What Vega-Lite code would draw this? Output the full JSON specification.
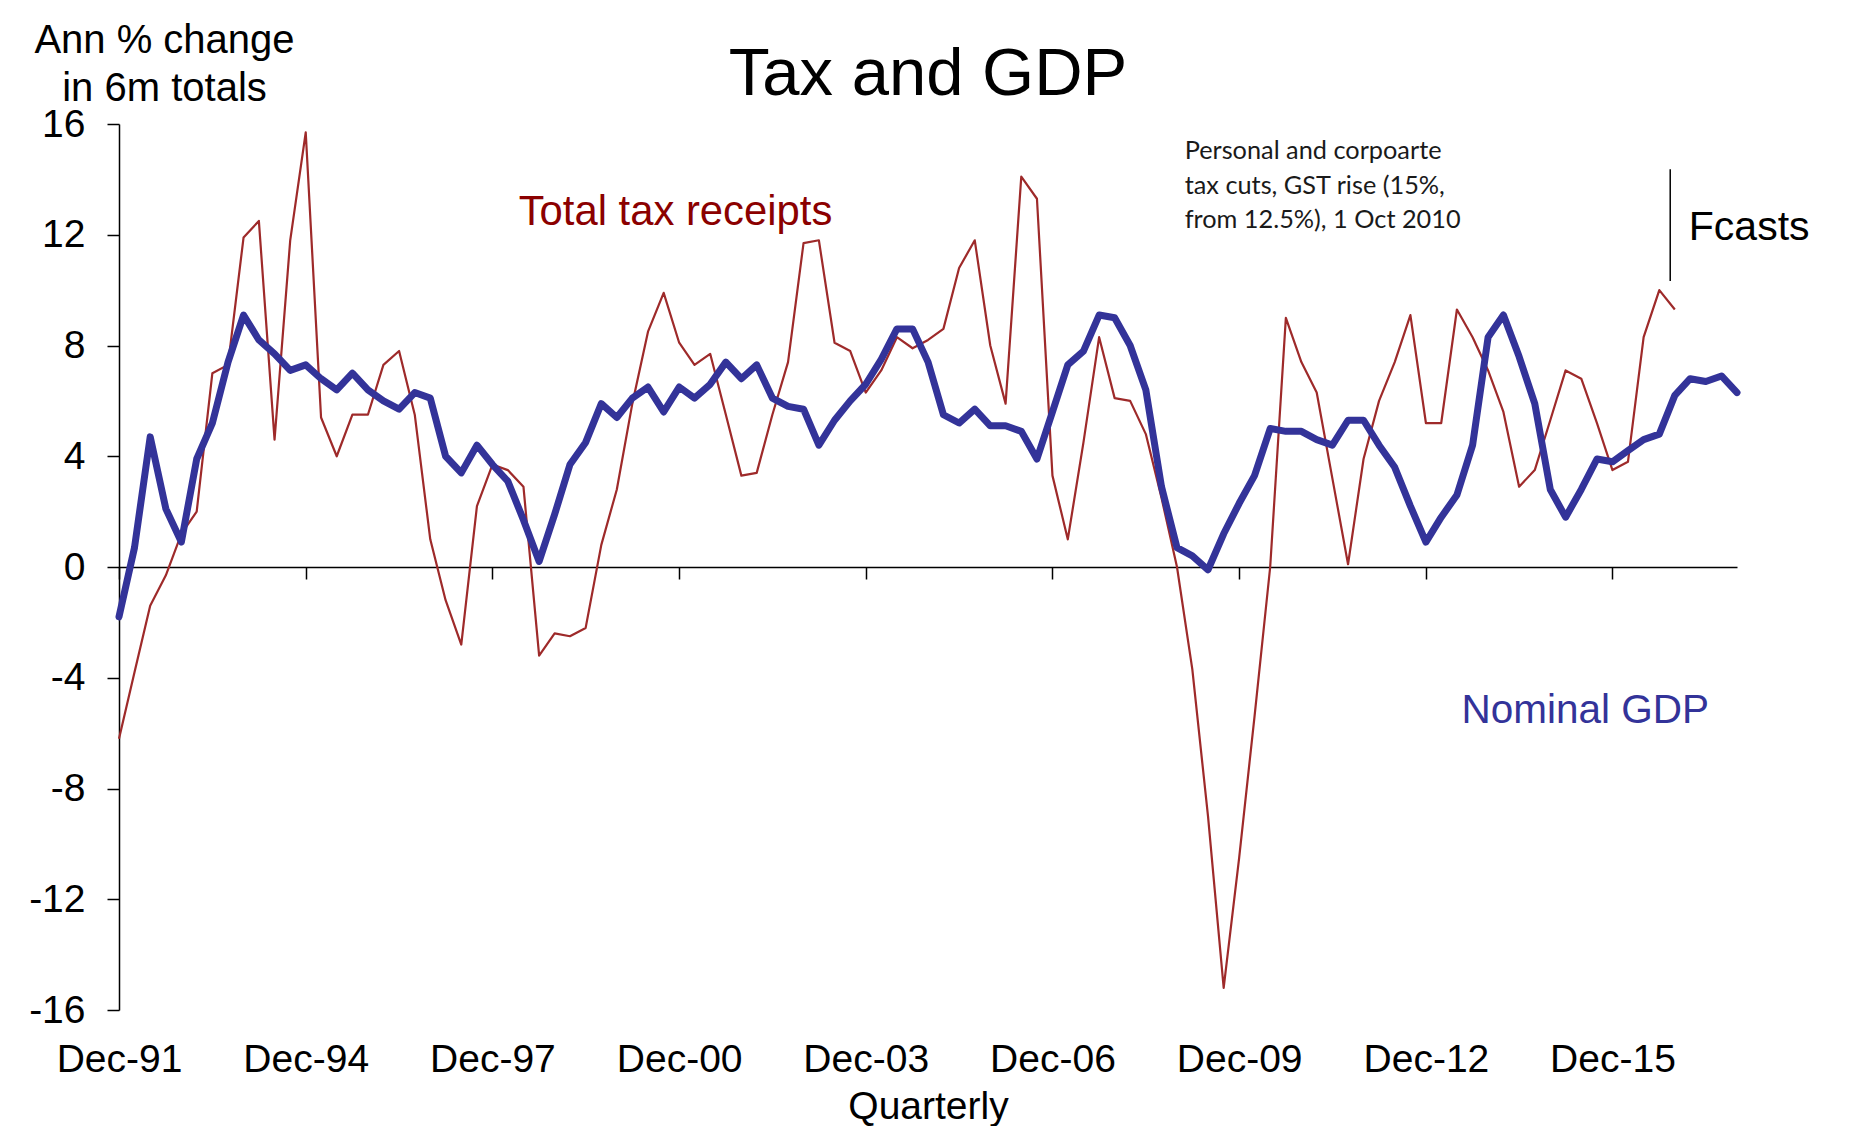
{
  "$schema": "https://vega.github.io/schema/vega-lite/v6.json",
  "width": 1618,
  "height": 886,
  "autosize": {"type": "none"},
  "padding": {"left": 119, "top": 124, "right": 114, "bottom": 116},
  "background": "white",
  "title": {
    "text": "Tax and GDP",
    "font": "Liberation Sans",
    "fontSize": 67,
    "fontWeight": "normal",
    "color": "black",
    "anchor": "middle",
    "frame": "group",
    "offset": 0,
    "dy": 89
  },
  "config": {
    "view": {"stroke": null},
    "axis": {
      "domainColor": "black",
      "domainWidth": 1.5,
      "tickColor": "black",
      "tickWidth": 1.5,
      "tickSize": 12,
      "grid": false,
      "labelColor": "black",
      "labelFont": "Liberation Sans",
      "labelFontSize": 39,
      "titleFont": "Liberation Sans",
      "titleFontSize": 39,
      "titleFontWeight": "normal",
      "titleColor": "black"
    }
  },
  "data": {
    "values": [
      {"date": "1991-12-01", "tax": -6.2, "gdp": -1.8},
      {"date": "1992-03-01", "tax": -3.8, "gdp": 0.7},
      {"date": "1992-06-01", "tax": -1.4, "gdp": 4.7},
      {"date": "1992-09-01", "tax": -0.3, "gdp": 2.1},
      {"date": "1992-12-01", "tax": 1.2, "gdp": 0.9},
      {"date": "1993-03-01", "tax": 2.0, "gdp": 3.9},
      {"date": "1993-06-01", "tax": 7.0, "gdp": 5.2},
      {"date": "1993-09-01", "tax": 7.3, "gdp": 7.4},
      {"date": "1993-12-01", "tax": 11.9, "gdp": 9.1},
      {"date": "1994-03-01", "tax": 12.5, "gdp": 8.2},
      {"date": "1994-06-01", "tax": 4.6, "gdp": 7.7},
      {"date": "1994-09-01", "tax": 11.8, "gdp": 7.1},
      {"date": "1994-12-01", "tax": 15.7, "gdp": 7.3},
      {"date": "1995-03-01", "tax": 5.4, "gdp": 6.8},
      {"date": "1995-06-01", "tax": 4.0, "gdp": 6.4},
      {"date": "1995-09-01", "tax": 5.5, "gdp": 7.0},
      {"date": "1995-12-01", "tax": 5.5, "gdp": 6.4},
      {"date": "1996-03-01", "tax": 7.3, "gdp": 6.0},
      {"date": "1996-06-01", "tax": 7.8, "gdp": 5.7},
      {"date": "1996-09-01", "tax": 5.5, "gdp": 6.3},
      {"date": "1996-12-01", "tax": 1.0, "gdp": 6.1},
      {"date": "1997-03-01", "tax": -1.2, "gdp": 4.0},
      {"date": "1997-06-01", "tax": -2.8, "gdp": 3.4},
      {"date": "1997-09-01", "tax": 2.2, "gdp": 4.4},
      {"date": "1997-12-01", "tax": 3.7, "gdp": 3.7},
      {"date": "1998-03-01", "tax": 3.5, "gdp": 3.1},
      {"date": "1998-06-01", "tax": 2.9, "gdp": 1.7},
      {"date": "1998-09-01", "tax": -3.2, "gdp": 0.2},
      {"date": "1998-12-01", "tax": -2.4, "gdp": 1.9},
      {"date": "1999-03-01", "tax": -2.5, "gdp": 3.7},
      {"date": "1999-06-01", "tax": -2.2, "gdp": 4.5},
      {"date": "1999-09-01", "tax": 0.8, "gdp": 5.9},
      {"date": "1999-12-01", "tax": 2.8, "gdp": 5.4},
      {"date": "2000-03-01", "tax": 5.9, "gdp": 6.1},
      {"date": "2000-06-01", "tax": 8.5, "gdp": 6.5},
      {"date": "2000-09-01", "tax": 9.9, "gdp": 5.6},
      {"date": "2000-12-01", "tax": 8.1, "gdp": 6.5},
      {"date": "2001-03-01", "tax": 7.3, "gdp": 6.1},
      {"date": "2001-06-01", "tax": 7.7, "gdp": 6.6},
      {"date": "2001-09-01", "tax": 5.5, "gdp": 7.4},
      {"date": "2001-12-01", "tax": 3.3, "gdp": 6.8},
      {"date": "2002-03-01", "tax": 3.4, "gdp": 7.3},
      {"date": "2002-06-01", "tax": 5.5, "gdp": 6.1},
      {"date": "2002-09-01", "tax": 7.4, "gdp": 5.8},
      {"date": "2002-12-01", "tax": 11.7, "gdp": 5.7},
      {"date": "2003-03-01", "tax": 11.8, "gdp": 4.4},
      {"date": "2003-06-01", "tax": 8.1, "gdp": 5.3},
      {"date": "2003-09-01", "tax": 7.8, "gdp": 6.0},
      {"date": "2003-12-01", "tax": 6.3, "gdp": 6.6},
      {"date": "2004-03-01", "tax": 7.1, "gdp": 7.5},
      {"date": "2004-06-01", "tax": 8.3, "gdp": 8.6},
      {"date": "2004-09-01", "tax": 7.9, "gdp": 8.6},
      {"date": "2004-12-01", "tax": 8.2, "gdp": 7.4},
      {"date": "2005-03-01", "tax": 8.6, "gdp": 5.5},
      {"date": "2005-06-01", "tax": 10.8, "gdp": 5.2},
      {"date": "2005-09-01", "tax": 11.8, "gdp": 5.7},
      {"date": "2005-12-01", "tax": 8.0, "gdp": 5.1},
      {"date": "2006-03-01", "tax": 5.9, "gdp": 5.1},
      {"date": "2006-06-01", "tax": 14.1, "gdp": 4.9},
      {"date": "2006-09-01", "tax": 13.3, "gdp": 3.9},
      {"date": "2006-12-01", "tax": 3.3, "gdp": 5.6},
      {"date": "2007-03-01", "tax": 1.0, "gdp": 7.3},
      {"date": "2007-06-01", "tax": 4.5, "gdp": 7.8},
      {"date": "2007-09-01", "tax": 8.3, "gdp": 9.1},
      {"date": "2007-12-01", "tax": 6.1, "gdp": 9.0},
      {"date": "2008-03-01", "tax": 6.0, "gdp": 8.0},
      {"date": "2008-06-01", "tax": 4.8, "gdp": 6.4},
      {"date": "2008-09-01", "tax": 2.5, "gdp": 2.9},
      {"date": "2008-12-01", "tax": 0.0, "gdp": 0.7},
      {"date": "2009-03-01", "tax": -3.7, "gdp": 0.4},
      {"date": "2009-06-01", "tax": -9.0, "gdp": -0.1},
      {"date": "2009-09-01", "tax": -15.2, "gdp": 1.2},
      {"date": "2009-12-01", "tax": -10.5, "gdp": 2.3},
      {"date": "2010-03-01", "tax": -5.4, "gdp": 3.3},
      {"date": "2010-06-01", "tax": 0.0, "gdp": 5.0},
      {"date": "2010-09-01", "tax": 9.0, "gdp": 4.9},
      {"date": "2010-12-01", "tax": 7.4, "gdp": 4.9},
      {"date": "2011-03-01", "tax": 6.3, "gdp": 4.6},
      {"date": "2011-06-01", "tax": 3.2, "gdp": 4.4},
      {"date": "2011-09-01", "tax": 0.1, "gdp": 5.3},
      {"date": "2011-12-01", "tax": 3.9, "gdp": 5.3},
      {"date": "2012-03-01", "tax": 6.0, "gdp": 4.4},
      {"date": "2012-06-01", "tax": 7.4, "gdp": 3.6},
      {"date": "2012-09-01", "tax": 9.1, "gdp": 2.2},
      {"date": "2012-12-01", "tax": 5.2, "gdp": 0.9},
      {"date": "2013-03-01", "tax": 5.2, "gdp": 1.8},
      {"date": "2013-06-01", "tax": 9.3, "gdp": 2.6},
      {"date": "2013-09-01", "tax": 8.3, "gdp": 4.4},
      {"date": "2013-12-01", "tax": 7.1, "gdp": 8.3},
      {"date": "2014-03-01", "tax": 5.6, "gdp": 9.1},
      {"date": "2014-06-01", "tax": 2.9, "gdp": 7.6},
      {"date": "2014-09-01", "tax": 3.5, "gdp": 5.9},
      {"date": "2014-12-01", "tax": 5.3, "gdp": 2.8},
      {"date": "2015-03-01", "tax": 7.1, "gdp": 1.8},
      {"date": "2015-06-01", "tax": 6.8, "gdp": 2.8},
      {"date": "2015-09-01", "tax": 5.2, "gdp": 3.9},
      {"date": "2015-12-01", "tax": 3.5, "gdp": 3.8},
      {"date": "2016-03-01", "tax": 3.8, "gdp": 4.2},
      {"date": "2016-06-01", "tax": 8.3, "gdp": 4.6},
      {"date": "2016-09-01", "tax": 10.0, "gdp": 4.8},
      {"date": "2016-12-01", "tax": 9.3, "gdp": 6.2},
      {"date": "2017-03-01", "tax": null, "gdp": 6.8},
      {"date": "2017-06-01", "tax": null, "gdp": 6.7},
      {"date": "2017-09-01", "tax": null, "gdp": 6.9},
      {"date": "2017-12-01", "tax": null, "gdp": 6.3}
    ]
  },
  "layer": [
    {
      "mark": {"type": "line", "color": "#9e2a2a", "strokeWidth": 2.2, "strokeJoin": "round"},
      "encoding": {
        "x": {
          "field": "date",
          "type": "temporal",
          "scale": {
            "type": "utc",
            "domain": [
              {"year": 1991, "month": 12, "date": 1, "utc": true},
              {"year": 2017, "month": 12, "date": 1, "utc": true}
            ]
          },
          "axis": {
            "orient": "bottom",
            "offset": -443,
            "values": [
              {"year": 1991, "month": 12, "date": 1, "utc": true},
              {"year": 1994, "month": 12, "date": 1, "utc": true},
              {"year": 1997, "month": 12, "date": 1, "utc": true},
              {"year": 2000, "month": 12, "date": 1, "utc": true},
              {"year": 2003, "month": 12, "date": 1, "utc": true},
              {"year": 2006, "month": 12, "date": 1, "utc": true},
              {"year": 2009, "month": 12, "date": 1, "utc": true},
              {"year": 2012, "month": 12, "date": 1, "utc": true},
              {"year": 2015, "month": 12, "date": 1, "utc": true}
            ],
            "format": "%b-%y",
            "labelPadding": 461,
            "labelFlush": false,
            "labelOverlap": false,
            "title": "Quarterly",
            "titleBaseline": "alphabetic",
            "titleY": 551
          }
        },
        "y": {
          "field": "tax",
          "type": "quantitative",
          "scale": {"domain": [-16, 16], "nice": false, "zero": false},
          "axis": {
            "values": [-16, -12, -8, -4, 0, 4, 8, 12, 16],
            "labelExpr": "'' + datum.value",
            "labelPadding": 22,
            "title": ["Ann  % change", "in 6m totals"],
            "titleAngle": 0,
            "titleAlign": "center",
            "titleBaseline": "alphabetic",
            "titleX": 45,
            "titleY": -72,
            "titleFontSize": 40,
            "titleLineHeight": 48
          }
        }
      }
    },
    {
      "mark": {"type": "line", "color": "#333399", "strokeWidth": 7, "strokeJoin": "round", "strokeCap": "round"},
      "encoding": {
        "x": {"field": "date", "type": "temporal"},
        "y": {"field": "gdp", "type": "quantitative"}
      }
    },
    {
      "data": {"values": [{"label": "Total tax receipts"}]},
      "mark": {"type": "text", "align": "left", "baseline": "middle", "font": "Liberation Sans", "fontSize": 41.8, "color": "#8b0000"},
      "encoding": {
        "x": {"datum": {"year": 1998, "month": 5, "date": 4, "utc": true}, "type": "temporal"},
        "y": {"datum": 12.82, "type": "quantitative"},
        "text": {"field": "label"}
      }
    },
    {
      "data": {"values": [{"label": "Nominal GDP"}]},
      "mark": {"type": "text", "align": "left", "baseline": "middle", "font": "Liberation Sans", "fontSize": 40.5, "color": "#333399"},
      "encoding": {
        "x": {"datum": {"year": 2013, "month": 6, "date": 28, "utc": true}, "type": "temporal"},
        "y": {"datum": -5.2, "type": "quantitative"},
        "text": {"field": "label"}
      }
    },
    {
      "data": {"values": [{"label": "Fcasts"}]},
      "mark": {"type": "text", "align": "left", "baseline": "middle", "font": "Liberation Sans", "fontSize": 41, "color": "black"},
      "encoding": {
        "x": {"datum": {"year": 2017, "month": 2, "date": 21, "utc": true}, "type": "temporal"},
        "y": {"datum": 12.24, "type": "quantitative"},
        "text": {"field": "label"}
      }
    },
    {
      "data": {"values": [{"label": ["Personal and corpoarte", "tax cuts, GST rise (15%,", "from 12.5%), 1 Oct 2010"]}]},
      "mark": {"type": "text", "align": "left", "baseline": "middle", "font": "Lato", "fontSize": 25.3, "lineHeight": 34.5, "color": "#1a1a1a"},
      "encoding": {
        "x": {"datum": {"year": 2009, "month": 1, "date": 15, "utc": true}, "type": "temporal"},
        "y": {"datum": 15.02, "type": "quantitative"},
        "text": {"field": "label"}
      }
    },
    {
      "data": {"values": [{"label": "Fcasts"}]},
      "mark": {"type": "rule", "color": "black", "strokeWidth": 1.5},
      "encoding": {
        "x": {"datum": {"year": 2016, "month": 11, "date": 4, "utc": true}, "type": "temporal"},
        "y": {"datum": 14.37, "type": "quantitative"},
        "y2": {"datum": 10.33}
      }
    }
  ]
}
